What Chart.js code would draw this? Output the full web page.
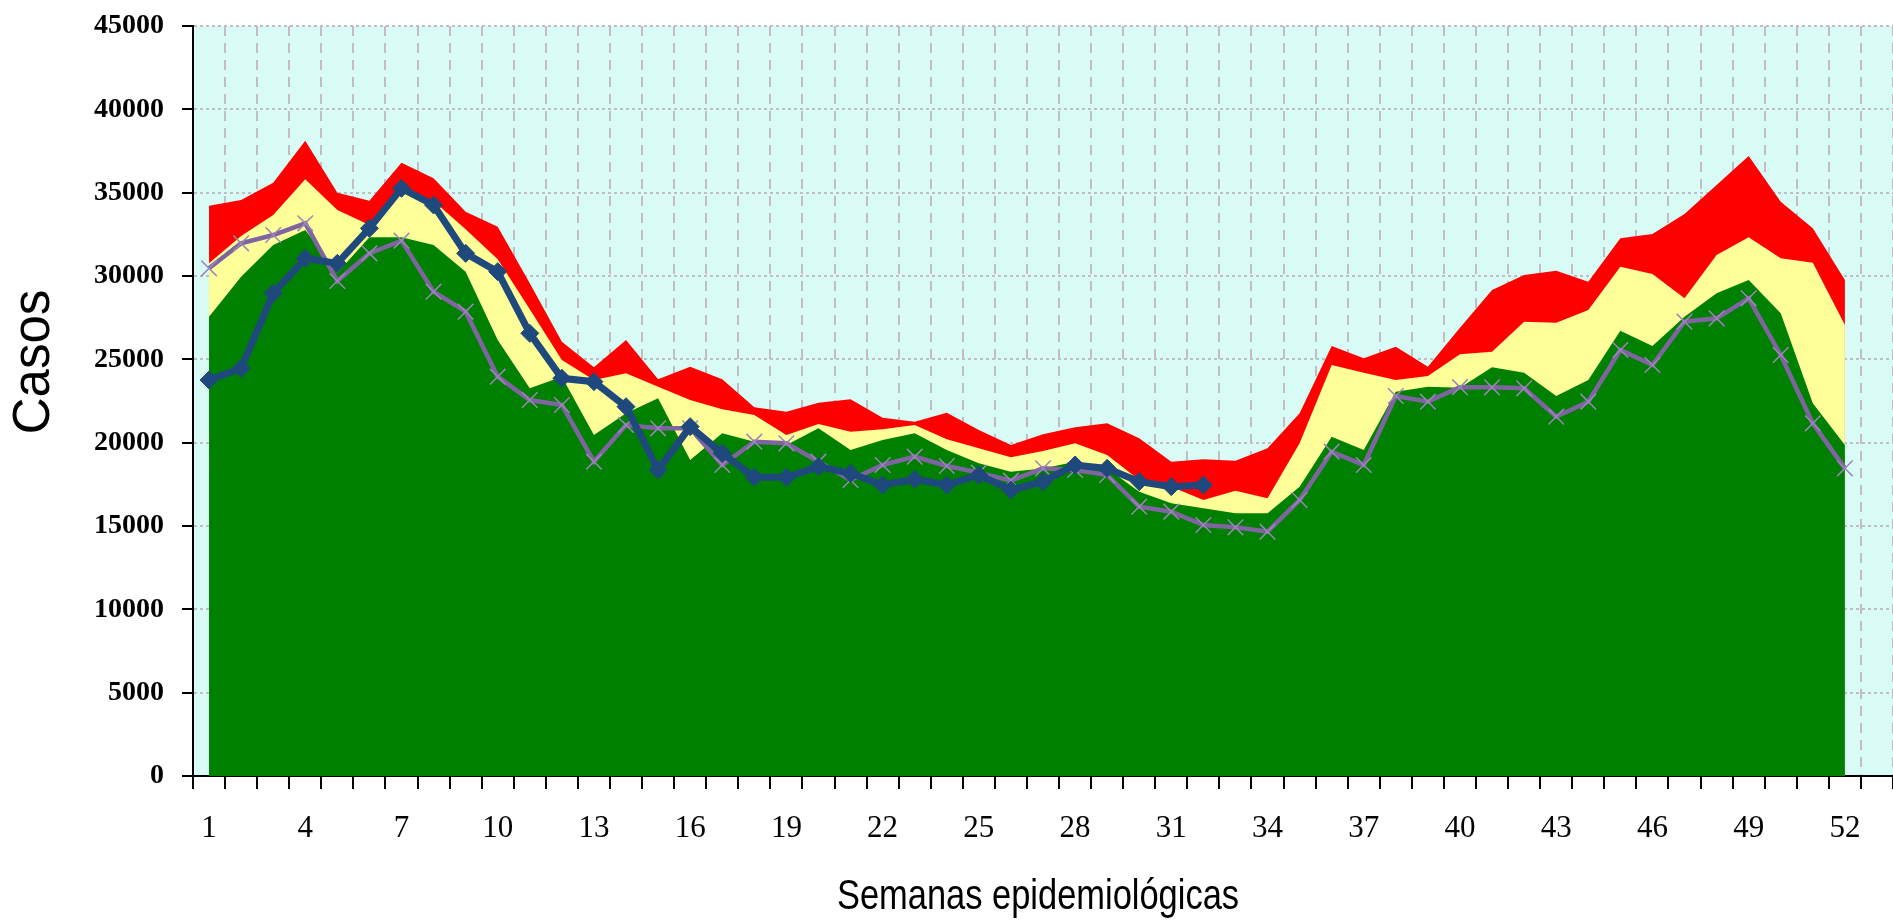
<!DOCTYPE html>
<html>
<head>
<meta charset="utf-8">
<script src="https://cdn.jsdelivr.net/npm/chart.js@4.4.1/dist/chart.umd.min.js"></script>
<style>
    html, body { margin: 0; padding: 0; background: #ffffff; overflow: hidden; }
    #wrap { position: relative; width: 1893px; height: 920px; }
    #wrap canvas { display: block; }
</style>
</head>
<body>
<div id="wrap"><canvas id="casosChart" width="1893" height="920"></canvas></div>
<script>
// semanas epidemiológicas (la 53 queda vacía, como en el original)
const semanas = [1, 2, 3, 4, 5, 6, 7, 8, 9, 10, 11, 12, 13, 14, 15, 16, 17, 18, 19, 20,
    21, 22, 23, 24, 25, 26, 27, 28, 29, 30, 31, 32, 33, 34, 35, 36, 37, 38, 39, 40,
    41, 42, 43, 44, 45, 46, 47, 48, 49, 50, 51, 52, 53];

// zona de éxito (verde)
const zonaExito = [27560, 29960, 31860, 32760, 30200, 32320, 32320, 31860, 30260, 26160,
    23260, 23960, 20460, 21760, 22660, 18960, 20560, 20060, 19860, 20860,
    19560, 20160, 20560, 19560, 18760, 18260, 18450, 18860, 18460, 17060,
    16360, 16060, 15760, 15760, 17360, 20360, 19560, 23060, 23360, 23300,
    24520, 24200, 22800, 23760, 26720, 25800, 27560, 28960, 29760, 27760,
    22360, 19860];

// zona de seguridad (amarillo)
const zonaSeguridad = [30760, 32400, 33660, 35800, 33960, 33060, 35060, 34500, 32800, 31000,
    28000, 24960, 23760, 24160, 23360, 22560, 22000, 21660, 20460, 21120,
    20660, 20800, 21060, 20200, 19660, 19120, 19500, 19960, 19260, 17760,
    17360, 16560, 17120, 16660, 19960, 24660, 24200, 23760, 24000, 25300,
    25460, 27260, 27200, 27960, 30560, 30120, 28660, 31260, 32320, 31060,
    30800, 27060];

// zona de alerta (rojo)
const zonaAlerta = [34220, 34560, 35600, 38120, 35000, 34520, 36800, 35860, 33860, 32960,
    29560, 26060, 24520, 26160, 23800, 24560, 23800, 22120, 21860, 22400,
    22600, 21500, 21260, 21800, 20760, 19860, 20500, 20920, 21160, 20260,
    18860, 19000, 18920, 19660, 21760, 25800, 25060, 25760, 24560, 26900,
    29160, 30060, 30320, 29660, 32260, 32520, 33720, 35460, 37200, 34460,
    32860, 29760];

// casos del año actual (hasta la semana 32)
const casosActual = [23760, 24460, 28960, 31060, 30760, 32860, 35260, 34260, 31360, 30260,
    26560, 23860, 23660, 22160, 18360, 20960, 19360, 17920, 17920, 18560,
    18160, 17460, 17800, 17460, 18060, 17160, 17660, 18660, 18460, 17660,
    17360, 17460];

// casos del año anterior
const casosAnterior = [30460, 31960, 32460, 33160, 29700, 31360, 32120, 29060, 27860, 23960,
    22560, 22260, 18860, 21060, 20860, 20860, 18660, 20060, 19960, 18860,
    17760, 18660, 19160, 18600, 18200, 17720, 18460, 18360, 18060, 16160,
    15860, 15060, 14920, 14660, 16560, 19460, 18660, 22800, 22460, 23330,
    23320, 23260, 21560, 22460, 25560, 24660, 27260, 27460, 28660, 25260,
    21160, 18460];

const yTicks = [0, 5000, 10000, 15000, 20000, 25000, 30000, 35000, 40000, 45000];

// fondo del área del gráfico + títulos de los ejes
const fondoPlot = {
    id: 'fondoPlot',
    beforeDraw(chart) {
        const {ctx, chartArea} = chart;
        ctx.save();
        ctx.fillStyle = '#d9fbf5';
        ctx.fillRect(chartArea.left, chartArea.top, chartArea.right - chartArea.left, chartArea.bottom - chartArea.top);
        ctx.restore();
    },
    afterDraw(chart) {
        const ctx = chart.ctx;
        // eje Y
        ctx.save();
        ctx.translate(35, 362);
        ctx.rotate(-Math.PI / 2);
        ctx.fillStyle = '#000000';
        ctx.font = '51px "Liberation Sans", Arial, sans-serif';
        ctx.textAlign = 'center';
        ctx.textBaseline = 'middle';
        ctx.fillText('Casos', 0, 0);
        ctx.restore();
        // eje X (letra estrecha como en el original)
        ctx.save();
        ctx.translate(1038, 897);
        ctx.scale(0.82, 1);
        ctx.fillStyle = '#000000';
        ctx.font = '42px "Liberation Sans", Arial, sans-serif';
        ctx.textAlign = 'center';
        ctx.textBaseline = 'middle';
        ctx.fillText('Semanas epidemiológicas', 0, 0);
        ctx.restore();
    }
};

function area(label, data, color, order) {
    return {
        label: label,
        data: data,
        backgroundColor: color,
        borderColor: color,
        borderWidth: 0,
        pointRadius: 0,
        fill: 'origin',
        tension: 0,
        order: order
    };
}

const ctx = document.getElementById('casosChart').getContext('2d');
const casosChart = new Chart(ctx, {
    type: 'line',
    data: {
        labels: semanas,
        datasets: [
            {
                label: 'Casos año actual',
                data: casosActual,
                borderColor: '#1f497d',
                backgroundColor: '#1f497d',
                borderWidth: 7,
                pointStyle: 'rectRot',
                pointRadius: 9,
                pointBorderWidth: 1,
                fill: false,
                tension: 0,
                order: 0
            },
            {
                label: 'Casos año anterior',
                data: casosAnterior,
                borderColor: '#8064a2',
                backgroundColor: '#8064a2',
                borderWidth: 4.5,
                pointStyle: 'crossRot',
                pointRadius: 11,
                pointBorderWidth: 1.5,
                pointBorderColor: '#9b86b8',
                fill: false,
                tension: 0,
                order: 1
            },
            area('Éxito', zonaExito, '#008000', 2),
            area('Seguridad', zonaSeguridad, '#ffff99', 3),
            area('Alerta', zonaAlerta, '#ff0000', 4)
        ]
    },
    options: {
        responsive: false,
        animation: false,
        layout: {autoPadding: false, padding: {top: 26, right: 0, left: 0, bottom: 0}},
        plugins: {
            legend: {display: false},
            tooltip: {enabled: false}
        },
        scales: {
            x: {
                type: 'category',
                offset: true,
                grid: {
                    color: '#c2bdc2',
                    lineWidth: 2,
                    offset: true,
                    tickLength: 13,
                    tickColor: '#000000',
                    tickWidth: 2,
                    tickBorderDash: []
                },
                border: {display: true, color: '#000000', width: 2, dash: [10, 7]},
                ticks: {
                    autoSkip: false,
                    maxRotation: 0,
                    padding: 21,
                    color: '#000000',
                    font: {family: '"Liberation Serif", "Times New Roman", serif', size: 31},
                    callback: function (value, index) {
                        return index % 3 === 0 ? String(semanas[index]) : '';
                    }
                },
                afterFit: function (scale) {
                    scale.height = 144;
                    scale.paddingLeft = 0;
                    scale.paddingRight = 0;
                }
            },
            y: {
                min: 0,
                max: 45000,
                afterBuildTicks: function (scale) {
                    scale.ticks = yTicks.map(v => ({value: v}));
                },
                grid: {
                    color: '#c2bdc2',
                    lineWidth: 2,
                    tickLength: 11,
                    tickColor: '#000000',
                    tickWidth: 2,
                    tickBorderDash: []
                },
                border: {display: true, color: '#000000', width: 2, dash: [3, 3]},
                ticks: {
                    padding: 18,
                    color: '#000000',
                    font: {family: '"Liberation Serif", "Times New Roman", serif', size: 28, weight: 'bold'},
                    callback: function (value) {
                        return String(value);
                    }
                },
                afterFit: function (scale) {
                    scale.width = 193;
                    scale.paddingTop = 0;
                    scale.paddingBottom = 0;
                }
            }
        }
    },
    plugins: [fondoPlot]
});
</script>
</body>
</html>
